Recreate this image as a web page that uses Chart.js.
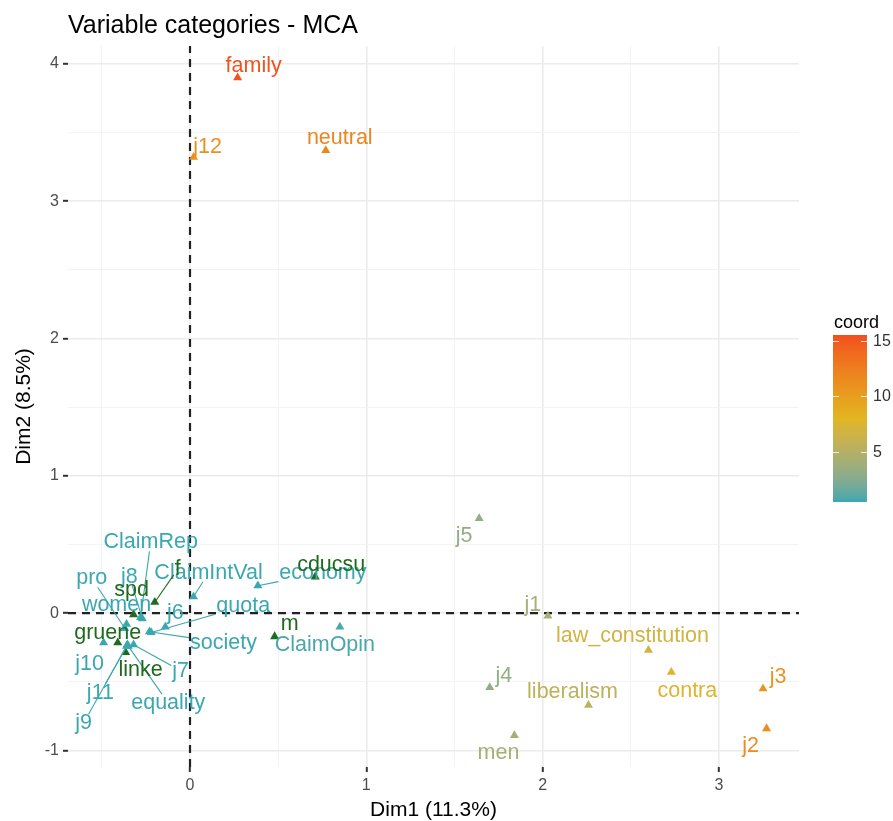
<!DOCTYPE html>
<html>
<head>
<meta charset="utf-8">
<title>Variable categories - MCA</title>
<script src="https://cdn.jsdelivr.net/npm/chart.js@4.4.1/dist/chart.umd.min.js"></script>
<style>
  html, body { margin: 0; padding: 0; background: #fff; }
</style>
</head>
<body>
<canvas id="mcaChart" width="893" height="821"></canvas>
<script>
// active categories (coloured by coord = Dim1^2 + Dim2^2)
const activeLabels = ['family', 'neutral', 'j12', 'j5', 'j1', 'law_constitution', 'contra', 'j3', 'j2',
    'liberalism', 'j4', 'men', 'ClaimRep', 'j8', 'women', 'pro', 'ClaimIntVal', 'economy', 'quota',
    'j6', 'society', 'j10', 'j7', 'equality', 'j11', 'j9', 'ClaimOpin'];
const activeDim1 = [0.27, 0.77, 0.02, 1.64, 2.03, 2.60, 2.73, 3.25, 3.27,
    2.26, 1.70, 1.84, -0.28, -0.27, -0.36, -0.37, 0.02, 0.385, -0.22,
    -0.14, -0.23, -0.49, -0.32, -0.35, -0.355, -0.36, 0.85];
const activeDim2 = [3.90, 3.37, 3.32, 0.69, -0.02, -0.27, -0.43, -0.55, -0.84,
    -0.67, -0.54, -0.89, -0.03, -0.04, -0.08, -0.11, 0.12, 0.20, -0.14,
    -0.10, -0.135, -0.215, -0.23, -0.24, -0.23, -0.24, -0.10];

// supplementary qualitative categories (dark green)
const suppLabels = ['cducsu', 'spd', 'gruene', 'linke', 'f', 'm'];
const suppDim1 = [0.71, -0.32, -0.41, -0.365, -0.20, 0.48];
const suppDim2 = [0.265, -0.01, -0.215, -0.285, 0.08, -0.17];

// axes and colour bar
const xBreaks = [0, 1, 2, 3];
const xMinor = [-0.5, 0.5, 1.5, 2.5];
const yBreaks = [-1, 0, 1, 2, 3, 4];
const yMinor = [-0.5, 0.5, 1.5, 2.5, 3.5];
const coordBreaks = [5, 10, 15];
const coordRange = [0.46, 15.54];

// label placement (pixel offset of the label centre from its point, like ggrepel output)
const labelNudge = {
    family: [16, -12], neutral: [14, -12], j12: [14, -10], j5: [-15, 18], j1: [-15, -11],
    law_constitution: [-16, -14], contra: [16, 19], j3: [15, -12], j2: [-16, 18],
    liberalism: [-16, -13], j4: [14, -11], men: [-16, 18], ClaimRep: [10, -75], j8: [-13, -42],
    women: [-10, -19], pro: [-33, -50], ClaimIntVal: [15, -24], economy: [65, -13],
    quota: [92, -26], j6: [10, -14], society: [74, 11], j10: [-14, 21], j7: [47, 26],
    equality: [40, 57], j11: [-27, 48], j9: [-43, 77], ClaimOpin: [-15, 18],
    cducsu: [16, -12], spd: [-2, -24], gruene: [-10, -10], linke: [15, 18], f: [23, -33], m: [15, -12]
};

const FONT = '"Liberation Sans", Arial, Helvetica, sans-serif';
const GRADIENT = ['#3AA8B0', '#E2B520', '#F24E1E'];
const SUPP_COLOUR = '#1E6A1E';
const MIN_SEGMENT = 16;

// --- colour ramp in CIELAB, the way ggplot's gradientn does it ---
const toLin = c => (c <= 0.04045 ? c / 12.92 : Math.pow((c + 0.055) / 1.055, 2.4));
const fromLin = c => (c <= 0.0031308 ? 12.92 * c : 1.055 * Math.pow(c, 1 / 2.4) - 0.055);

function hexToLab(hex) {
    const n = parseInt(hex.slice(1), 16);
    const [r, g, b] = [(n >> 16) & 255, (n >> 8) & 255, n & 255].map(v => toLin(v / 255));
    const X = (0.4124 * r + 0.3576 * g + 0.1805 * b) / 0.95047;
    const Y = 0.2126 * r + 0.7152 * g + 0.0722 * b;
    const Z = (0.0193 * r + 0.1192 * g + 0.9505 * b) / 1.08883;
    const f = t => (t > 0.008856 ? Math.cbrt(t) : 7.787 * t + 16 / 116);
    return [116 * f(Y) - 16, 500 * (f(X) - f(Y)), 200 * (f(Y) - f(Z))];
}

function labToCss([L, a, b]) {
    const fy = (L + 16) / 116, fx = fy + a / 500, fz = fy - b / 200;
    const inv = t => (t * t * t > 0.008856 ? t * t * t : (t - 16 / 116) / 7.787);
    const X = inv(fx) * 0.95047, Y = inv(fy), Z = inv(fz) * 1.08883;
    const rgb = [
        3.2406 * X - 1.5372 * Y - 0.4986 * Z,
        -0.9689 * X + 1.8758 * Y + 0.0415 * Z,
        0.0557 * X - 0.2040 * Y + 1.0570 * Z
    ].map(v => Math.round(Math.min(1, Math.max(0, fromLin(v))) * 255));
    return `rgb(${rgb.join(',')})`;
}

const gradLab = GRADIENT.map(hexToLab);

function coordColour(v) {
    let t = (v - coordRange[0]) / (coordRange[1] - coordRange[0]);
    t = Math.min(1, Math.max(0, t));
    const seg = t * (gradLab.length - 1);
    const i = Math.min(Math.floor(seg), gradLab.length - 2);
    const f = seg - i;
    return labToCss(gradLab[i].map((c, k) => c + (gradLab[i + 1][k] - c) * f));
}

const activeColours = activeDim1.map((x, i) => coordColour(x * x + activeDim2[i] * activeDim2[i]));

// --- plugins ---
const titlePlugin = {
    id: 'mcaTitle',
    afterDraw(chart) {
        const ctx = chart.ctx;
        ctx.save();
        ctx.fillStyle = '#000';
        ctx.font = `25px ${FONT}`;
        ctx.textBaseline = 'alphabetic';
        ctx.textAlign = 'left';
        ctx.fillText('Variable categories - MCA', chart.chartArea.left, 33);
        ctx.restore();
    }
};

const refLinesPlugin = {
    id: 'refLines',
    beforeDatasetsDraw(chart) {
        const { ctx, chartArea: a, scales: { x, y } } = chart;
        const x0 = x.getPixelForValue(0), y0 = y.getPixelForValue(0);
        ctx.save();
        ctx.strokeStyle = '#222';
        ctx.lineWidth = 2.2;
        ctx.setLineDash([8, 6]);
        ctx.beginPath();
        ctx.moveTo(a.left, y0); ctx.lineTo(a.right, y0);
        ctx.moveTo(x0, a.bottom); ctx.lineTo(x0, a.top);
        ctx.stroke();
        ctx.restore();
    }
};

const repelLabelsPlugin = {
    id: 'repelLabels',
    afterDatasetsDraw(chart) {
        const ctx = chart.ctx;
        ctx.save();
        ctx.font = `21.5px ${FONT}`;
        ctx.textAlign = 'center';
        ctx.textBaseline = 'middle';
        chart.data.datasets.forEach((ds, di) => {
            const meta = chart.getDatasetMeta(di);
            meta.data.forEach((pt, i) => {
                const name = ds.names[i];
                const [dx, dy] = labelNudge[name] || [0, -14];
                const colour = Array.isArray(ds.backgroundColor) ? ds.backgroundColor[i] : ds.backgroundColor;
                const lx = pt.x + dx, ly = pt.y + dy;
                const hw = ctx.measureText(name).width / 2 + 1, hh = 9;
                // segment from the point towards the label centre, stopped at the label box
                const t = Math.min(dx ? hw / Math.abs(dx) : 1, dy ? hh / Math.abs(dy) : 1, 1);
                const len = Math.hypot(dx, dy) * (1 - t);
                if (len > MIN_SEGMENT) {
                    ctx.strokeStyle = colour;
                    ctx.lineWidth = 1.1;
                    ctx.beginPath();
                    ctx.moveTo(pt.x, pt.y);
                    ctx.lineTo(lx - dx * t, ly - dy * t);
                    ctx.stroke();
                }
                ctx.fillStyle = colour;
                ctx.fillText(name, lx, ly);
            });
        });
        ctx.restore();
    }
};

const colourBarPlugin = {
    id: 'colourBar',
    afterDraw(chart) {
        const ctx = chart.ctx;
        const left = 833, right = 867, top = 335, bottom = 502;
        const valToY = v => bottom - (v - coordRange[0]) / (coordRange[1] - coordRange[0]) * (bottom - top);
        ctx.save();
        for (let yy = top; yy < bottom; yy++) {
            const v = coordRange[0] + (bottom - yy - 0.5) / (bottom - top) * (coordRange[1] - coordRange[0]);
            ctx.fillStyle = coordColour(v);
            ctx.fillRect(left, yy, right - left, 1);
        }
        ctx.strokeStyle = 'rgba(255,255,255,0.8)';
        ctx.lineWidth = 1;
        ctx.font = `16px ${FONT}`;
        ctx.fillStyle = '#333';
        ctx.textAlign = 'left';
        ctx.textBaseline = 'middle';
        coordBreaks.forEach(b => {
            const yy = Math.round(valToY(b)) + 0.5;
            ctx.beginPath();
            ctx.moveTo(left, yy); ctx.lineTo(left + 6, yy);
            ctx.moveTo(right - 6, yy); ctx.lineTo(right, yy);
            ctx.stroke();
            ctx.fillText(String(b), 873, yy);
        });
        ctx.fillStyle = '#000';
        ctx.font = `18px ${FONT}`;
        ctx.textBaseline = 'alphabetic';
        ctx.fillText('coord', 834, 328);
        ctx.restore();
    }
};

// --- scales ---
const isMajor = (v, breaks) => breaks.some(b => Math.abs(b - v) < 1e-9);

function axisOptions(breaks, minor, min, max, title) {
    return {
        type: 'linear',
        min, max,
        afterBuildTicks: scale => {
            scale.ticks = breaks.concat(minor).sort((a, b) => a - b).map(v => ({ value: v }));
        },
        ticks: {
            autoSkip: false,
            maxRotation: 0,
            padding: 4,
            color: '#4d4d4d',
            font: { family: FONT, size: 16 },
            callback: v => (isMajor(v, breaks) ? String(v) : '')
        },
        grid: {
            color: c => (isMajor(c.tick.value, breaks) ? '#ebebeb' : '#f3f3f3'),
            lineWidth: c => (isMajor(c.tick.value, breaks) ? 1.6 : 1),
            tickLength: 5,
            tickWidth: 2,
            tickColor: c => (isMajor(c.tick.value, breaks) ? '#333' : 'rgba(0,0,0,0)')
        },
        border: { display: false },
        title: {
            display: true,
            text: title,
            color: '#000',
            font: { family: FONT, size: 21, lineHeight: 1 }
        }
    };
}

const xAxis = axisOptions(xBreaks, xMinor, -0.692, 3.454, 'Dim1 (11.3%)');
xAxis.afterFit = s => { s.height = 54; };
xAxis.title.padding = { top: 0, bottom: 0 };

const yAxis = axisOptions(yBreaks, yMinor, -1.12, 4.13, 'Dim2 (8.5%)');
yAxis.afterFit = s => { s.width = 68; };
yAxis.title.padding = { top: 14, bottom: 0 };

new Chart(document.getElementById('mcaChart'), {
    type: 'scatter',
    data: {
        datasets: [
            {
                label: 'active',
                names: activeLabels,
                data: activeDim1.map((x, i) => ({ x, y: activeDim2[i] })),
                backgroundColor: activeColours,
                borderColor: activeColours,
                pointStyle: 'triangle',
                pointRadius: 5.2,
                borderWidth: 0
            },
            {
                label: 'supplementary',
                names: suppLabels,
                data: suppDim1.map((x, i) => ({ x, y: suppDim2[i] })),
                backgroundColor: SUPP_COLOUR,
                borderColor: SUPP_COLOUR,
                pointStyle: 'triangle',
                pointRadius: 5.2,
                borderWidth: 0
            }
        ]
    },
    options: {
        responsive: false,
        animation: false,
        layout: { padding: { top: 46, right: 94, left: 0, bottom: 0 } },
        plugins: {
            legend: { display: false },
            tooltip: { enabled: false }
        },
        scales: { x: xAxis, y: yAxis }
    },
    plugins: [refLinesPlugin, repelLabelsPlugin, titlePlugin, colourBarPlugin]
});
</script>
</body>
</html>
